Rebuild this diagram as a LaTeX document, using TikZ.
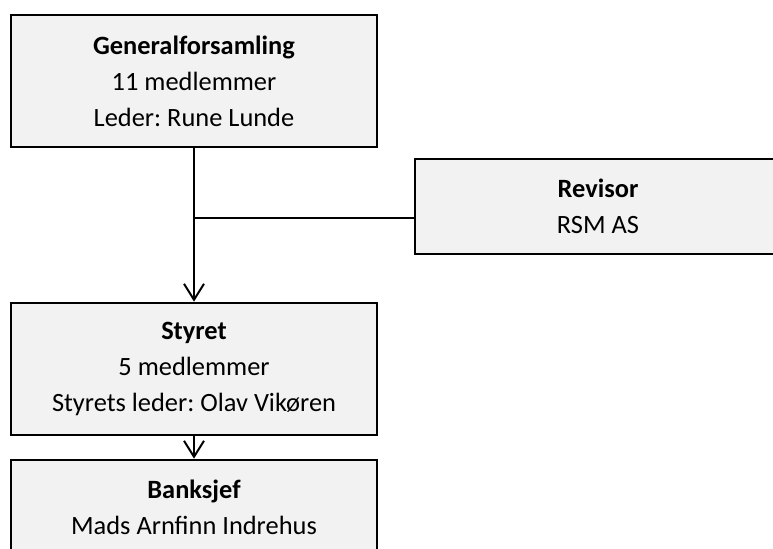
\documentclass[tikz,border=0pt]{standalone}
\usepackage{fontspec}
\setmainfont{Carlito}
\frenchspacing
\usetikzlibrary{arrows.meta}
\definecolor{boxgray}{HTML}{F2F2F2}

\begin{document}
\begin{tikzpicture}[x=0.5pt,y=-0.5pt,
  orgbox/.style={draw,line width=1.3pt,fill=boxgray,minimum width=183pt,
    inner sep=0pt,align=center,font=\fontsize{13.2}{18}\selectfont},
  tallbox/.style={minimum height=66pt},
  lowbox/.style={minimum height=47.5pt},
  link/.style={line width=1pt},
  >={Straight Barb[length=8pt,width=10pt]}]
  \clip (0,0) rectangle (773,549);

  \node[orgbox,tallbox] (gf) at (194,81)
    {\textbf{Generalforsamling}\\11 medlemmer\\Leder: Rune Lunde};
  \node[orgbox,lowbox] (revisor) at (598,206.5)
    {\textbf{Revisor}\\RSM AS};
  \node[orgbox,tallbox] (styret) at (194,369)
    {\textbf{Styret}\\5 medlemmer\\Styrets leder: Olav Vikøren};
  \node[orgbox,lowbox] (banksjef) at (194,507.5)
    {\textbf{Banksjef}\\Mads Arnfinn Indrehus};

  \coordinate (tap) at (194,218);
  \draw[link,->] (gf) -- (styret);
  \draw[link] (revisor.west |- tap) -- (tap);
  \draw[link,->] (styret) -- (banksjef);
\end{tikzpicture}
\end{document}
